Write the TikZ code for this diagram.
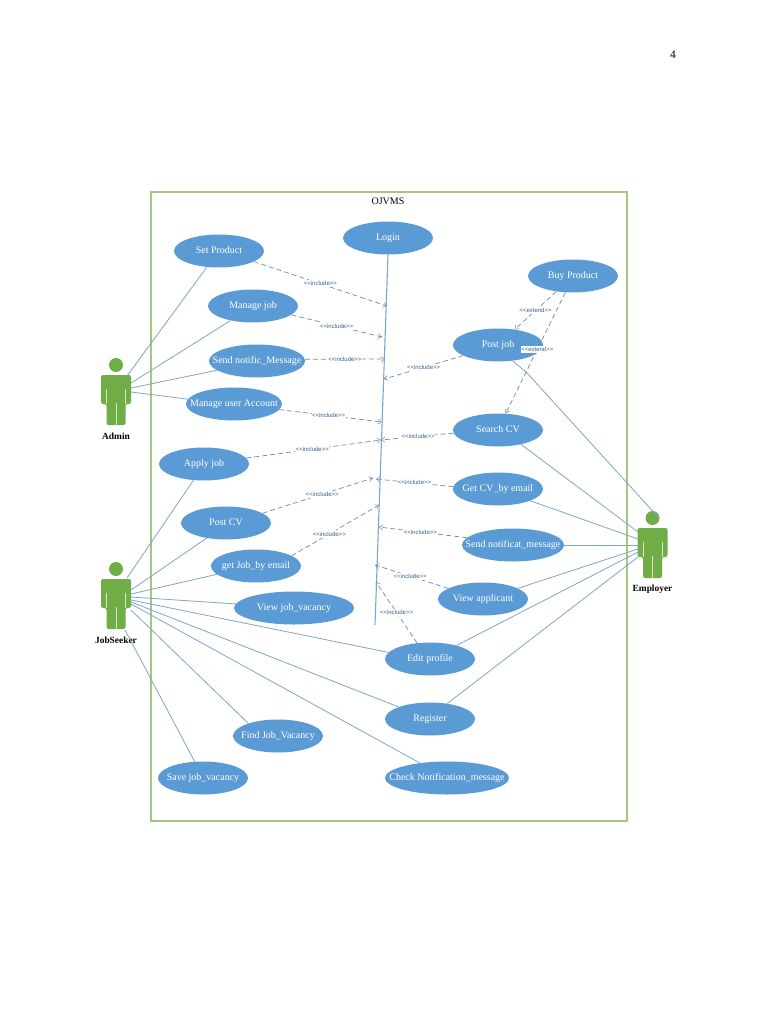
\documentclass[tikz,border=0pt]{standalone}
\usepackage{fontspec}
\setmainfont{Liberation Serif}
\newfontfamily\lblfont{Liberation Sans}
\usetikzlibrary{shapes.geometric,arrows.meta}
\definecolor{ucfill}{HTML}{5B9BD5}
\definecolor{ucline}{HTML}{7FA5CE}
\definecolor{actfill}{HTML}{70AD47}
\definecolor{framec}{HTML}{A3C97E}
\definecolor{lbltext}{HTML}{3A5F8A}
\newcommand{\incl}{{<}{<}include{>}{>}}
\newcommand{\extd}{{<}{<}extend{>}{>}}
\newcommand{\uc}[1]{\makebox[0pt]{\raisebox{-2.5pt}[0pt][0pt]{#1}}}
\tikzset{
  usecase/.style={ellipse,fill=ucfill,draw=none,text=white,inner sep=0pt,minimum width=90pt,minimum height=33pt,font=\fontsize{10}{10}\selectfont},
  assoc/.style={draw=ucline,line width=0.8pt},
  dep/.style={draw=ucline!85!black,line width=0.7pt,dash pattern=on 5pt off 3pt,-{Straight Barb[length=3.5pt,width=5pt,line width=0.5pt]}},
  deplabel/.style={fill=white,inner xsep=0.6pt,inner ysep=1.4pt,text=lbltext,font=\lblfont\fontsize{6}{6}\selectfont},
  actorname/.style={text=black,font=\fontsize{9.4}{10}\selectfont\bfseries},
  actor/.pic={
    \fill[actfill] (0,-27) circle (7);
    \fill[actfill,rounded corners=2pt] (-15,-17) -- (15,-17) -- (15,12) -- (9.5,12) -- (9.5,33) -- (-9.5,33) -- (-9.5,12) -- (-15,12) -- cycle;
    \draw[white!70!actfill,line width=0.6pt] (0,11) -- (0,33) (-9.5,-3) -- (-9.5,12) (9.5,-3) -- (9.5,12);
  }
}
\begin{document}
\begin{tikzpicture}[x=1pt,y=-1pt]
\useasboundingbox (0,0) rectangle (768,1024);
\fill[white] (0,0) rectangle (768,1024);
\node (pagenum) at (673,55) {\fontsize{11.5}{12}\selectfont 4};
\draw[framec,line width=1.2pt] (151,192) rectangle (627,821);
\node (title) at (388,201) {\fontsize{10}{10}\selectfont OJVMS};

% use cases
\node[usecase] (login) at (388,238) {\uc{Login}};
\node[usecase] (setp) at (219,251) {\uc{Set Product}};
\node[usecase] (mjob) at (253,306) {\uc{Manage job}};
\node[usecase,minimum width=96pt] (sendn) at (257,361) {\uc{Send notific\_Message}};
\node[usecase,minimum width=96pt] (manu) at (234,404) {\uc{Manage user Account}};
\node[usecase] (buy) at (573,276) {\uc{Buy Product}};
\node[usecase] (postj) at (498,345) {\uc{Post job}};
\node[usecase] (search) at (498,430) {\uc{Search CV}};
\node[usecase] (getcv) at (498,489) {\uc{Get CV\_by email}};
\node[usecase,minimum width=102pt] (sendm) at (513,545) {\uc{Send notificat\_message}};
\node[usecase] (viewa) at (483,599) {\uc{View applicant}};
\node[usecase] (edit) at (430,659) {\uc{Edit profile}};
\node[usecase] (reg) at (430,719) {\uc{Register}};
\node[usecase,minimum width=124pt] (check) at (447,778) {\uc{Check Notification\_message}};
\node[usecase] (apply) at (204,464) {\uc{Apply job}};
\node[usecase] (postcv) at (226,523) {\uc{Post CV}};
\node[usecase] (getj) at (256,566) {\uc{get Job\_by email}};
\node[usecase,minimum width=120pt] (viewj) at (294,608) {\uc{View job\_vacancy}};
\node[usecase] (find) at (278,736) {\uc{Find Job\_Vacancy}};
\node[usecase] (save) at (203,778) {\uc{Save job\_vacancy}};

% actors
\pic at (116,392) {actor};
\pic at (116,596) {actor};
\pic at (652.5,545) {actor};
\node[actorname] (admin) at (116,436) {Admin};
\node[actorname] (jobseeker) at (116,640) {JobSeeker};
\node[actorname] (employer) at (652.5,589) {Employer};

% actor attachment points
\coordinate (a1) at (127,376);
\coordinate (a2) at (131,383);
\coordinate (a3) at (131,388);
\coordinate (a4) at (131,392);
\coordinate (j1) at (127,578);
\coordinate (j2) at (131,590);
\coordinate (j3) at (131,594);
\coordinate (j4) at (131,597);
\coordinate (j5) at (131,600);
\coordinate (j6) at (131,602);
\coordinate (j7) at (131,604);
\coordinate (j8) at (131,610);
\coordinate (j9) at (125,630);
\coordinate (ek) at (527,373);
\coordinate (e1) at (659,518);
\coordinate (e2) at (638,532);
\coordinate (e3) at (638,539);
\coordinate (e4) at (638,545);
\coordinate (e5) at (638,549);
\coordinate (e6) at (638,552);
\coordinate (e7) at (638,557);

% lifeline
\coordinate (lifeend) at (375,625);
\draw[draw=ucline,line width=1.1pt] (login.270) -- (lifeend);

% associations
\draw[assoc] (setp.233) -- (a1);
\draw[assoc] (mjob.213) -- (a2);
\draw[assoc] (sendn.193) -- (a3);
\draw[assoc] (manu.174) -- (a4);
\draw[assoc] (apply.237) -- (j1);
\draw[assoc] (postcv.218) -- (j2);
\draw[assoc] (getj.192) -- (j3);
\draw[assoc] (viewj.176) -- (j4);
\draw[assoc] (edit.171) -- (j5);
\draw[assoc] (reg.159) -- (j6);
\draw[assoc] (check.151) -- (j7);
\draw[assoc] (find.157) -- (j8);
\draw[assoc] (save.117) -- (j9);
\draw[assoc] (postj.313) -- (ek) -- (e1);
\draw[assoc] (search.328) -- (e2);
\draw[assoc] (getcv.340) -- (e3);
\draw[assoc] (sendm.0) -- (e4);
\draw[assoc] (viewa.17) -- (e5);
\draw[assoc] (edit.27) -- (e6);
\draw[assoc] (reg.42) -- (e7);

% lifeline targets
\coordinate (t1) at (387,306);
\coordinate (t2) at (382,337);
\coordinate (t3) at (385,359);
\coordinate (t4) at (384,379);
\coordinate (t5) at (382,422);
\coordinate (t6) at (381,440);
\coordinate (t7) at (376,479);
\coordinate (t8) at (379,505);
\coordinate (t9) at (379,527);
\coordinate (t10) at (375,565);
\coordinate (t11) at (376,582);
\coordinate (t12) at (373,478);

% dependencies
\draw[dep] (setp.343) -- node[deplabel,pos=.5] {\incl} (t1);
\draw[dep] (mjob.347) -- node[deplabel,pos=.5] {\incl} (t2);
\draw[dep] (sendn.2) -- node[deplabel,pos=.5] {\incl} (t3);
\draw[dep] (manu.353) -- node[deplabel,pos=.48] {\incl} (t5);
\draw[dep] (postj.197) -- node[deplabel,pos=.5] {\incl} (t4);
\draw[dep] (search.184) -- node[deplabel,pos=.49] {\incl} (t6);
\draw[dep] (apply.8) -- node[deplabel,pos=.49] {\incl} (t6);
\draw[dep] (getcv.177) -- node[deplabel,pos=.5] {\incl} (t7);
\draw[dep] (postcv.15) -- node[deplabel,pos=.54] {\incl} (t12);
\draw[dep] (getj.16) -- node[deplabel,pos=.43] {\incl} (t8);
\draw[dep] (sendm.171) -- node[deplabel,pos=.53] {\incl} (t9);
\draw[dep] (viewa.163) -- node[deplabel,pos=.52] {\incl} (t10);
\draw[dep] (edit.129) -- node[deplabel,pos=.5] {\incl} (t11);
\draw[dep] (buy.223) -- node[deplabel,pos=.5] {\extd} (postj.43);
\draw[dep] (buy.245) -- node[deplabel,pos=.47] {\extd} (search.65);
\end{tikzpicture}
\end{document}
